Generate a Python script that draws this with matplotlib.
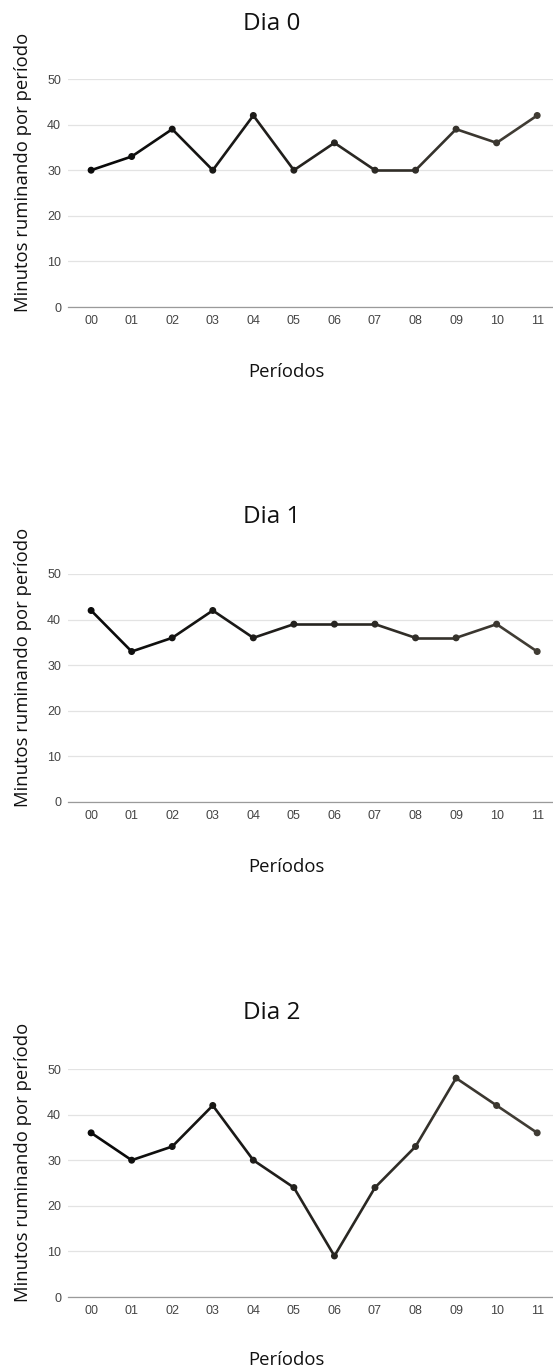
import numpy as np
import matplotlib.pyplot as plt
from matplotlib.collections import LineCollection
from matplotlib.colors import LinearSegmentedColormap

periodos = ['00', '01', '02', '03', '04', '05', '06', '07', '08', '09', '10', '11']
dias = ['Dia 0', 'Dia 1', 'Dia 2']
dia0 = [30, 33, 39, 30, 42, 30, 36, 30, 30, 39, 36, 42]
dia1 = [42, 33, 36, 42, 36, 39, 39, 39, 36, 36, 39, 33]
dia2 = [36, 30, 33, 42, 30, 24, 9, 24, 33, 48, 42, 36]
series = [dia0, dia1, dia2]

W, H = 553, 1372
fig = plt.figure(figsize=(W / 100, H / 100), dpi=100)

# pixel layout of each panel: title y, y of the 50 line, y of the 0 line, xlabel y
paineis = [
    (24, 79, 307, 372),
    (517, 574, 802, 867),
    (1013, 1069, 1297, 1360),
]

cmap = LinearSegmentedColormap.from_list('linha', ['#0a0a0a', '#403c34'])
left, right = 68, 553

for nome, valores, (ty, y50, y0, xly) in zip(dias, series, paineis):
    ax = fig.add_axes([left / W, 1 - y0 / H, (right - left) / W, (y0 - y50) / H])
    x = np.arange(len(periodos))
    y = np.array(valores)
    pts = np.column_stack([x, y]).reshape(-1, 1, 2)
    segs = np.concatenate([pts[:-1], pts[1:]], axis=1)
    t = np.linspace(0, 1, len(segs))
    lc = LineCollection(segs, colors=cmap(t), linewidths=1.9, capstyle='round',
                        joinstyle='round', zorder=3, clip_on=False)
    ax.add_collection(lc)
    ax.scatter(x, y, s=16, c=cmap(np.linspace(0, 1, len(x))), zorder=4, clip_on=False)

    ax.set_xlim(-0.57, 11.39)
    ax.set_ylim(0, 50)
    ax.set_yticks([0, 10, 20, 30, 40, 50])
    ax.set_xticks(x)
    ax.set_xticklabels(periodos)
    ax.grid(axis='y', color='#e3e3e3', linewidth=0.9)
    ax.set_axisbelow(True)
    for s in ['top', 'right', 'left']:
        ax.spines[s].set_visible(False)
    ax.spines['bottom'].set_color('#9a9a9a')
    ax.spines['bottom'].set_linewidth(0.9)
    ax.tick_params(length=0, labelsize=9, labelcolor='#444444')
    ax.tick_params(axis='x', pad=6)
    ax.tick_params(axis='y', pad=5)
    for lab in ax.get_xticklabels() + ax.get_yticklabels():
        lab.set_fontfamily('Liberation Sans')

    fig.text(272 / W, 1 - ty / H, nome, ha='center', va='center',
             fontsize=17.5, family='Open Sans', color='#111111')
    fig.text(286 / W, 1 - xly / H, 'Períodos', ha='center', va='center',
             fontsize=13.3, family='Open Sans', color='#111111')
    fig.text(23 / W, 1 - (y0 - 135) / H, 'Minutos ruminando por período', ha='center',
             va='center', rotation=90, fontsize=13.3, family='Open Sans', color='#111111')

fig.savefig('out.png', dpi=100, facecolor='white')
